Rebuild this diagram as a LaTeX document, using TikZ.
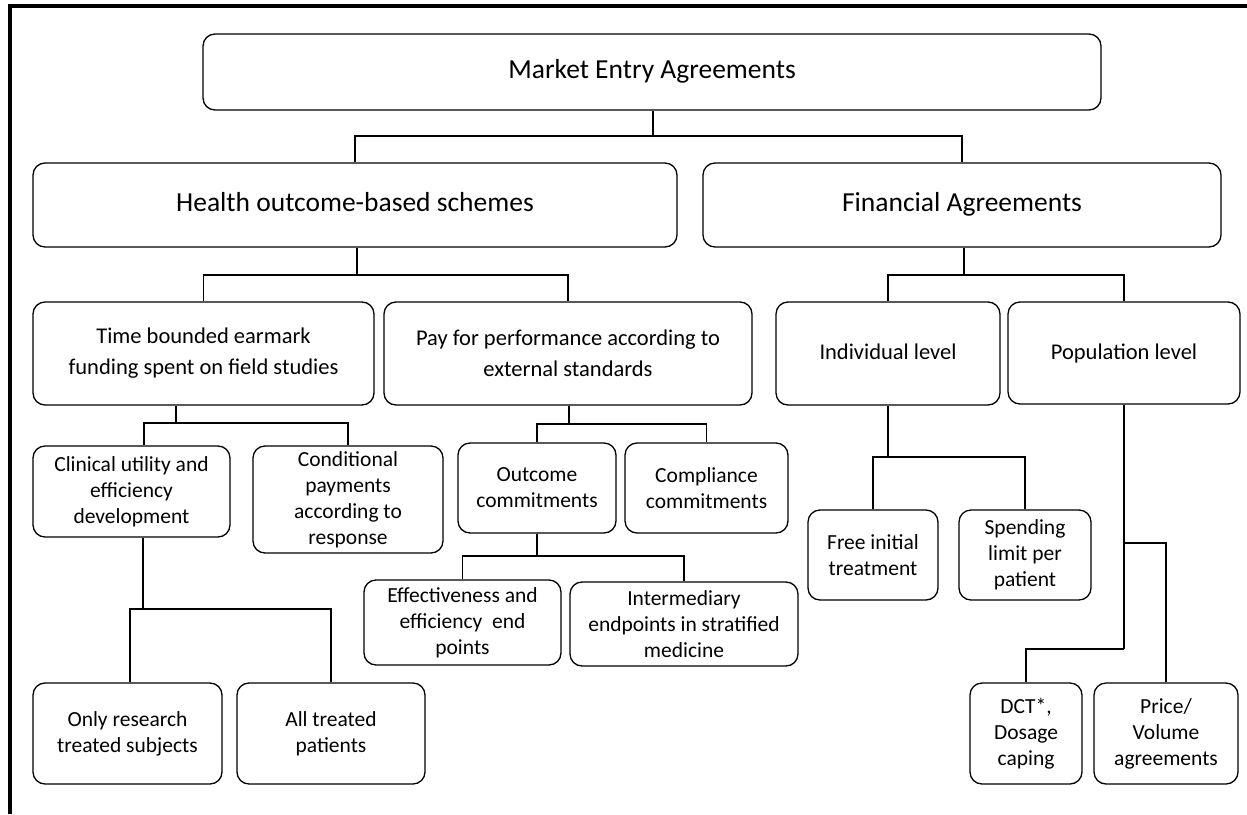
\documentclass[tikz,border=0pt]{standalone}
\usepackage{fontspec}
\setmainfont{Carlito}
\begin{document}
\begin{tikzpicture}[x=1pt,y=-1pt,
  box/.style={draw=black, line width=1.3pt, rounded corners=12pt, align=center, inner sep=0pt},
  big/.style={font=\fontsize{27.5}{33}\selectfont},
  mid/.style={font=\fontsize{22.5}{31}\selectfont},
  small/.style={font=\fontsize{21.5}{26}\selectfont},
  conn/.style={draw=black, line width=1.5pt},
  frame/.style={draw=black, line width=3.6pt}]
\useasboundingbox (0,0) rectangle (1247,814);
\newcommand{\mybox}[7]{\node[box,#1,minimum width={(#5-#3)*1pt},minimum height={(#6-#4)*1pt}] (#2) at ({(#3+#5)/2},{(#4+#6)/2}) {#7};}
% frame
\coordinate (fa1) at (9.8,814);
\coordinate (fa2) at (9.8,5.7);
\coordinate (fa3) at (1247,5.7);
\draw[frame] (fa1) -- (fa2) -- (fa3);
% level 0
\mybox{big}{mea}{203}{34}{1101}{110}{\strut Market Entry Agreements}
% level 1
\mybox{big}{hos}{33}{163}{677}{247}{\strut Health outcome-based schemes}
\mybox{big}{fin}{703}{163}{1221}{247}{\strut Financial Agreements}
% level 2
\mybox{mid}{tb}{33}{302}{374}{405}{Time bounded earmark\\funding spent on field studies}
\mybox{mid}{pp}{384}{302}{752}{405}{Pay for performance according to\\external standards}
\mybox{mid}{ind}{776}{302}{1000}{405}{\strut Individual level}
\mybox{mid}{pop}{1008}{302}{1240}{404}{\strut Population level}
% level 3
\mybox{small}{cu}{33}{446}{230}{537}{Clinical utility and\\efficiency\\development}
\mybox{small}{cp}{253}{446}{443}{553}{Conditional\\payments\\according to\\response}
\mybox{small}{oc}{458}{443}{616}{533}{Outcome\\commitments}
\mybox{small}{cc}{625}{443}{788}{533}{Compliance\\commitments}
\mybox{small}{fit}{808}{510}{938}{600}{Free initial\\treatment}
\mybox{small}{sl}{959}{510}{1091}{600}{Spending\\limit per\\patient}
% level 4
\mybox{small}{ee}{364}{580}{561}{665}{Effectiveness and\\efficiency~ end\\points}
\mybox{small}{im}{570}{582}{798}{666}{Intermediary\\endpoints in stratified\\medicine}
\mybox{small}{or}{33}{683}{222}{784}{Only research\\treated subjects}
\mybox{small}{at}{237}{683}{425}{784}{All treated\\patients}
\mybox{small}{dct}{970}{683}{1082}{784}{DCT*,\\Dosage\\caping}
\mybox{small}{pv}{1094}{683}{1238}{784}{Price/\\Volume\\agreements}
% connectors
\coordinate (j0) at (653,136);
\draw[conn] (mea.south -| j0) -- (j0);
\draw[conn] (hos.north) -- (hos.north |- j0) -- (fin.north |- j0) -- (fin.north);
\coordinate (j1) at (357,275);
\draw[conn] (hos.south -| j1) -- (j1);
\draw[conn] (tb.north) -- (tb.north |- j1) -- (pp.north |- j1) -- (pp.north);
\coordinate (j2) at (964,275);
\draw[conn] (fin.south -| j2) -- (j2);
\draw[conn] (ind.north) -- (ind.north |- j2) -- (pop.north |- j2) -- (pop.north);
% time bounded children
\coordinate (j3) at (176,423);
\coordinate (j3a) at (144,423);
\draw[conn] (tb.south -| j3) -- (j3);
\draw[conn] (cu.north -| j3a) -- (j3a) -- (cp.north |- j3) -- (cp.north);
% pay for performance children
\coordinate (j4) at (569,424);
\draw[conn] (pp.south -| j4) -- (j4);
\draw[conn] (oc.north) -- (oc.north |- j4) -- (cc.north |- j4) -- (cc.north);
% outcome children
\coordinate (j5) at (537,556);
\draw[conn] (oc.south) -- (oc.south |- j5);
\draw[conn] (ee.north) -- (ee.north |- j5) -- (im.north |- j5) -- (im.north);
% clinical utility children
\coordinate (j6) at (143,609);
\coordinate (j6a) at (130,609);
\draw[conn] (cu.south -| j6) -- (j6);
\draw[conn] (or.north -| j6a) -- (j6a) -- (at.north |- j6) -- (at.north);
% individual children
\coordinate (j7) at (888,457);
\draw[conn] (ind.south -| j7) -- (j7);
\draw[conn] (fit.north) -- (fit.north |- j7) -- (sl.north |- j7) -- (sl.north);
% population children
\coordinate (j8) at (1124,543);
\coordinate (j9) at (1124,649);
\draw[conn] (pop.south -| j8) -- (j9);
\draw[conn] (j8) -- (pv.north |- j8) -- (pv.north);
\draw[conn] (j9) -- (dct.north |- j9) -- (dct.north);
\end{tikzpicture}
\end{document}
